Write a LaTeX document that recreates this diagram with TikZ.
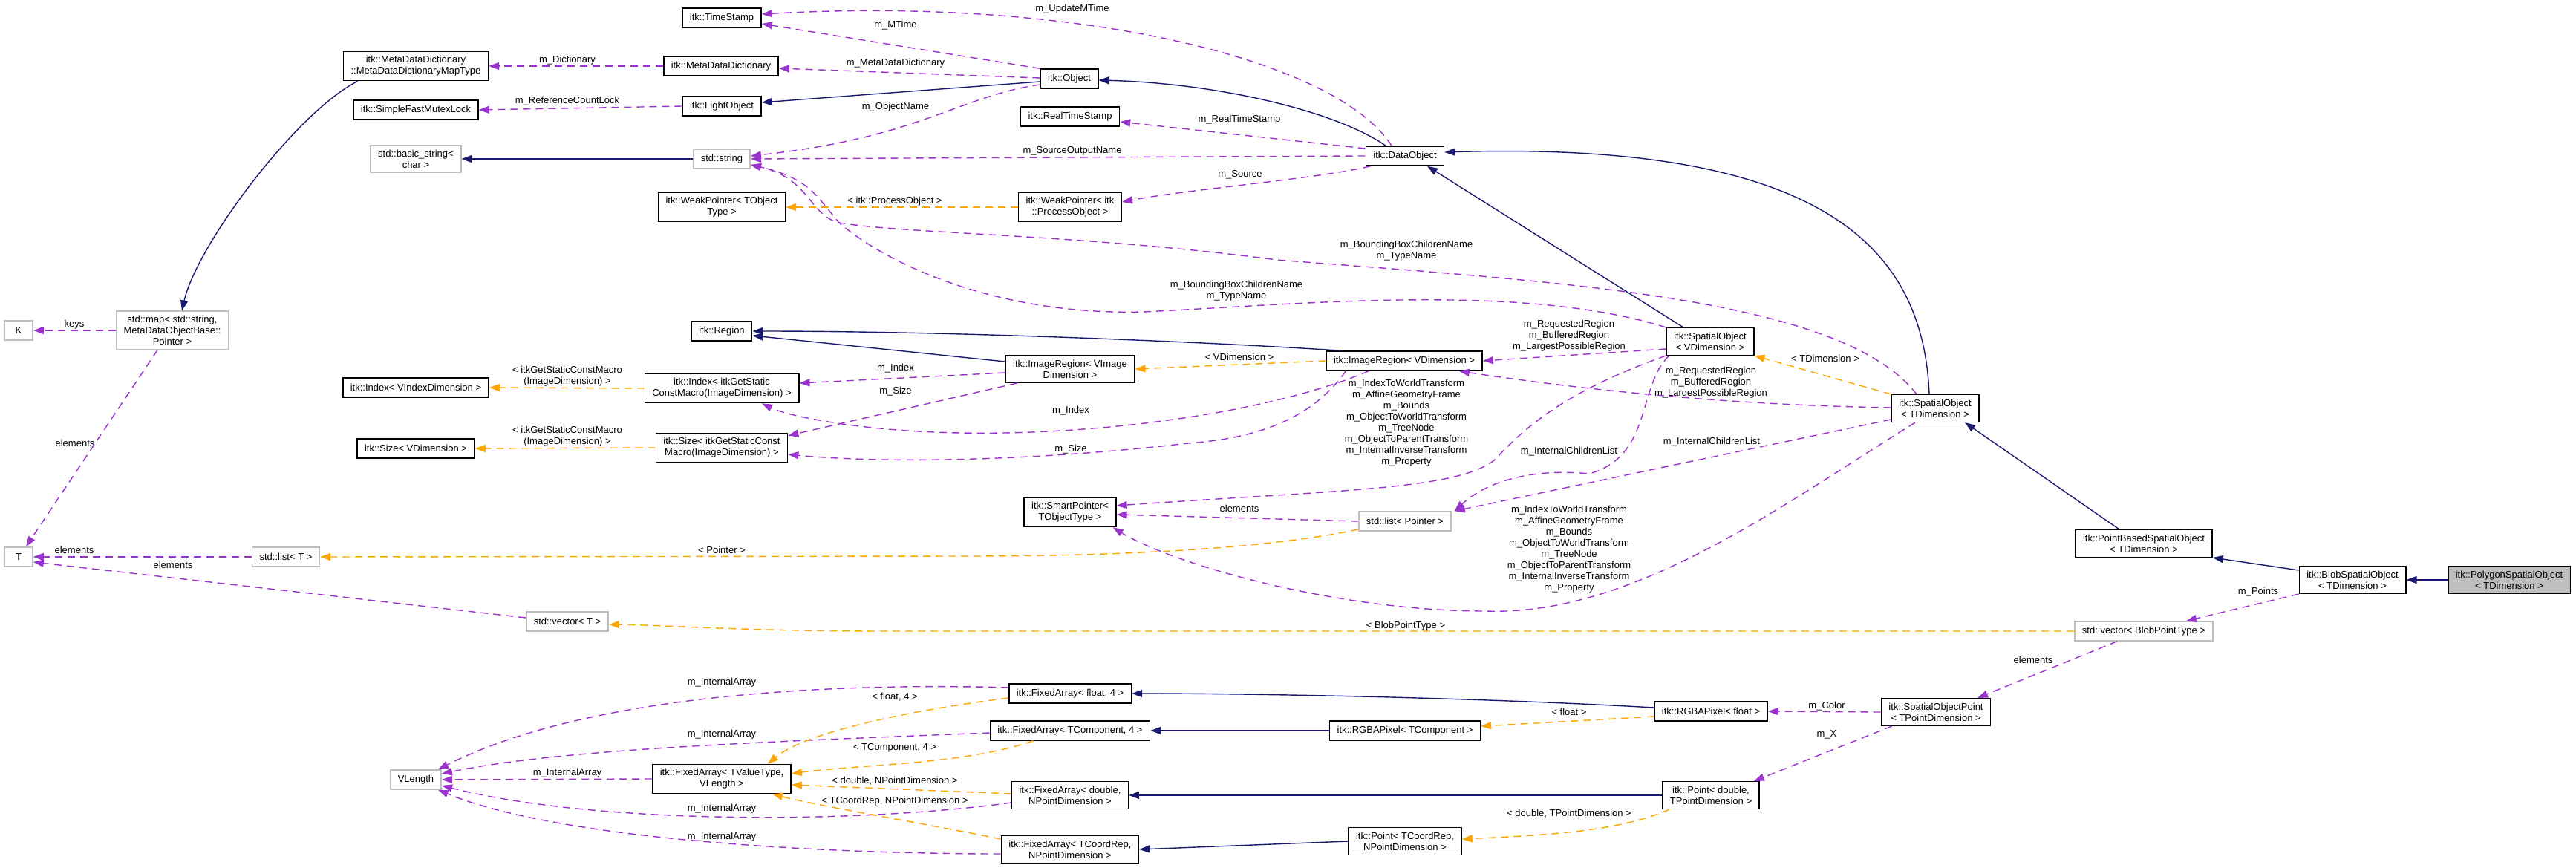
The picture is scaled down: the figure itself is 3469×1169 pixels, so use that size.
\documentclass[tikz,border=0pt]{standalone}
\usepackage{fontspec}
\setmainfont{Liberation Sans}
\usepackage{tikz}
\usetikzlibrary{arrows.meta}
\definecolor{inhblue}{HTML}{191970}
\definecolor{usepurple}{HTML}{9A32CD}
\definecolor{tplorange}{HTML}{FFA500}
\definecolor{extgray}{HTML}{BFBFBF}
\newcommand{\bbnames}{m\_BoundingBoxChildrenName\\m\_TypeName}
\newcommand{\regnames}{m\_RequestedRegion\\m\_BufferedRegion\\m\_LargestPossibleRegion}
\newcommand{\trnames}{m\_IndexToWorldTransform\\m\_AffineGeometryFrame\\m\_Bounds\\m\_ObjectToWorldTransform\\m\_TreeNode\\m\_ObjectToParentTransform\\m\_InternalInverseTransform\\m\_Property}

\begin{document}
\begin{tikzpicture}[x=1pt, y=-1pt, font=\fontsize{13}{15}\selectfont, >={Triangle[length=14pt,width=10pt]},
		box/.style={draw=black, line width=1.5pt, fill=white, align=center, inner xsep=10pt, inner ysep=6pt, minimum height=26pt},
		gbox/.style={box, draw=extgray},
		lab/.style={inner sep=0pt, align=center},
		inh/.style={->, color=inhblue, line width=1.4pt},
		use/.style={->, color=usepurple, line width=1.4pt, dash pattern=on 10pt off 7pt},
		tpl/.style={->, color=tplorange, line width=1.4pt, dash pattern=on 10pt off 7pt}]
			\useasboundingbox (0,0) rectangle (3469,1169);
			% classes
			\node[box] (mapT) at (560,89) {itk::MetaDataDictionary\\::MetaDataDictionaryMapType};
			\node[box] (mutex) at (560,148) {itk::SimpleFastMutexLock};
			\node[gbox] (bstr) at (560,214) {std::basic\_string<\\char >};
			\node[gbox] (stdmap) at (232,445) {std::map< std::string,\\MetaDataObjectBase::\\Pointer >};
			\node[gbox, minimum width=38pt] (K) at (25,445) {K};
			\node[gbox, minimum width=38pt] (T) at (25,750) {T};
			\node[box] (idxV) at (560,522) {itk::Index< VIndexDimension >};
			\node[box] (sizeV) at (560,604) {itk::Size< VDimension >};
			\node[gbox] (listT) at (385,750) {std::list< T >};
			\node[gbox] (vecT) at (764,837) {std::vector< T >};
			\node[gbox] (vlen) at (560,1050) {VLength};
			\node[box] (tstamp) at (972,24) {itk::TimeStamp};
			\node[box] (mdd) at (971,89) {itk::MetaDataDictionary};
			\node[box] (light) at (972,143) {itk::LightObject};
			\node[gbox] (str) at (972,214) {std::string};
			\node[box] (wpT) at (972,279) {itk::WeakPointer< TObject\\Type >};
			\node[box] (region) at (972,446) {itk::Region};
			\node[box] (idxS) at (972,523) {itk::Index< itkGetStatic\\ConstMacro(ImageDimension) >};
			\node[box] (sizeS) at (972,603) {itk::Size< itkGetStaticConst\\Macro(ImageDimension) >};
			\node[box] (faVL) at (972,1049) {itk::FixedArray< TValueType,\\VLength >};
			\node[box] (obj) at (1440,106) {itk::Object};
			\node[box] (rts) at (1441,157) {itk::RealTimeStamp};
			\node[box] (wpP) at (1441,279) {itk::WeakPointer< itk\\::ProcessObject >};
			\node[box] (irVI) at (1441,497) {itk::ImageRegion< VImage\\Dimension >};
			\node[box] (smartp) at (1441,690) {itk::SmartPointer<\\TObjectType >};
			\node[box] (faF) at (1441,934) {itk::FixedArray< float, 4 >};
			\node[box] (faC) at (1441,984) {itk::FixedArray< TComponent, 4 >};
			\node[box] (faD) at (1441,1071) {itk::FixedArray< double,\\NPointDimension >};
			\node[box] (faR) at (1441,1144) {itk::FixedArray< TCoordRep,\\NPointDimension >};
			\node[box] (dobj) at (1892,210) {itk::DataObject};
			\node[box] (irV) at (1891,486) {itk::ImageRegion< VDimension >};
			\node[gbox] (listP) at (1892,702) {std::list< Pointer >};
			\node[box] (rgbaC) at (1892,984) {itk::RGBAPixel< TComponent >};
			\node[box] (ptR) at (1892,1133) {itk::Point< TCoordRep,\\NPointDimension >};
			\node[box] (soV) at (2303,460) {itk::SpatialObject\\< VDimension >};
			\node[box] (rgbaF) at (2304,958) {itk::RGBAPixel< float >};
			\node[box] (ptD) at (2304,1071) {itk::Point< double,\\TPointDimension >};
			\node[box] (soT) at (2606,550) {itk::SpatialObject\\< TDimension >};
			\node[box] (sop) at (2607,959) {itk::SpatialObjectPoint\\< TPointDimension >};
			\node[box] (pbso) at (2887,732) {itk::PointBasedSpatialObject\\< TDimension >};
			\node[gbox] (vecB) at (2887,850) {std::vector< BlobPointType >};
			\node[box] (blob) at (3168,781) {itk::BlobSpatialObject\\< TDimension >};
			\node[box, fill=extgray] (poly) at (3379,781) {itk::PolygonSpatialObject\\< TDimension >};
			% edge labels
			\node[lab] (l-dict) at (764,81) {m\_Dictionary};
			\node[lab] (l-lock) at (764,136) {m\_ReferenceCountLock};
			\node[lab] (l-umt) at (1444,12) {m\_UpdateMTime};
			\node[lab] (l-mt) at (1206,34) {m\_MTime};
			\node[lab] (l-mdd) at (1206,85) {m\_MetaDataDictionary};
			\node[lab] (l-oname) at (1206,144) {m\_ObjectName};
			\node[lab] (l-rts) at (1669,161) {m\_RealTimeStamp};
			\node[lab] (l-son) at (1444,203) {m\_SourceOutputName};
			\node[lab] (l-src) at (1670,235) {m\_Source};
			\node[lab] (l-po) at (1205,271) {< itk::ProcessObject >};
			\node[lab] (l-bb1) at (1894,338) {\bbnames};
			\node[lab] (l-bb2) at (1665,392) {\bbnames};
			\node[lab] (l-keys) at (100,437) {keys};
			\node[lab] (l-el1) at (101,597) {elements};
			\node[lab] (l-gsc1) at (764,507) {< itkGetStaticConstMacro\\(ImageDimension) >};
			\node[lab] (l-gsc2) at (764,588) {< itkGetStaticConstMacro\\(ImageDimension) >};
			\node[lab] (l-el2) at (100,741) {elements};
			\node[lab] (l-el3) at (233,761) {elements};
			\node[lab] (l-idx1) at (1206,496) {m\_Index};
			\node[lab] (l-size1) at (1206,527) {m\_Size};
			\node[lab] (l-idx2) at (1442,553) {m\_Index};
			\node[lab] (l-size2) at (1442,605) {m\_Size};
			\node[lab] (l-vdim) at (1669,481) {< VDimension >};
			\node[lab] (l-reg1) at (2113,452) {\regnames};
			\node[lab] (l-reg2) at (2304,515) {\regnames};
			\node[lab] (l-tdim) at (2458,483) {< TDimension >};
			\node[lab] (l-tr1) at (1894,570) {\trnames};
			\node[lab] (l-tr2) at (2113,740) {\trnames};
			\node[lab] (l-icl1) at (2113,608) {m\_InternalChildrenList};
			\node[lab] (l-icl2) at (2305,595) {m\_InternalChildrenList};
			\node[lab] (l-el4) at (1669,685) {elements};
			\node[lab] (l-ptr) at (972,741) {< Pointer >};
			\node[lab] (l-bpt) at (1893,843) {< BlobPointType >};
			\node[lab] (l-ia1) at (972,919) {m\_InternalArray};
			\node[lab] (l-ia2) at (972,989) {m\_InternalArray};
			\node[lab] (l-ia3) at (764,1041) {m\_InternalArray};
			\node[lab] (l-ia4) at (972,1089) {m\_InternalArray};
			\node[lab] (l-ia5) at (972,1127) {m\_InternalArray};
			\node[lab] (l-f4) at (1205,939) {< float, 4 >};
			\node[lab] (l-c4) at (1205,1007) {< TComponent, 4 >};
			\node[lab] (l-dnp) at (1205,1052) {< double, NPointDimension >};
			\node[lab] (l-cnp) at (1205,1079) {< TCoordRep, NPointDimension >};
			\node[lab] (l-flt) at (2113,959) {< float >};
			\node[lab] (l-col) at (2460,951) {m\_Color};
			\node[lab] (l-x) at (2460,989) {m\_X};
			\node[lab] (l-dtp) at (2113,1096) {< double, TPointDimension >};
			\node[lab] (l-pts) at (3041,797) {m\_Points};
			\node[lab] (l-el5) at (2738,889) {elements};
			% inheritance
			\draw[inh] ([xshift=20pt]mapT.south west) .. controls (400,150) and (265,330) .. ([xshift=13pt]stdmap.north);
			\draw[inh] (str.west) -- (bstr.east);
			\draw[inh] ([yshift=-4pt]obj.west) -- ([yshift=5pt]light.east);
			\draw[inh] ([xshift=-26pt]dobj.north) .. controls (1800,150) and (1640,112) .. ([yshift=-2pt]obj.east);
			\draw[inh] ([xshift=-36pt]soV.north) -- ([xshift=30pt]dobj.south);
			\draw[inh] ([xshift=-8pt]soT.north) .. controls (2590,330) and (2450,190) .. ([yshift=5pt]dobj.east);
			\draw[inh] ([yshift=10pt]irVI.west) -- ([yshift=-6pt]region.east);
			\draw[inh] ([xshift=21pt]irV.north west) .. controls (1650,462) and (1300,446) .. (region.east);
			\draw[inh] ([xshift=-33pt]pbso.north) -- ([xshift=40pt]soT.south);
			\draw[inh] ([yshift=13pt]blob.west) -- (pbso.south east);
			\draw[inh] (poly.west) -- (blob.east);
			\draw[inh] ([yshift=5pt]rgbaF.west) .. controls (2000,940) and (1700,934) .. (faF.east);
			\draw[inh] (rgbaC.west) -- (faC.east);
			\draw[inh] (ptD.west) -- (faD.east);
			\draw[inh] (ptR.west) -- (faR.east);
			% members
			\draw[use] (mdd.west) -- (mapT.east);
			\draw[use] (light.west) -- (mutex.east);
			\draw[use] (obj.north west) -- ([yshift=-8pt]tstamp.east);
			\draw[use] ([xshift=-18pt]dobj.north) .. controls (1800,80) and (1450,-5) .. ([yshift=5pt]tstamp.east);
			\draw[use] ([yshift=1pt]obj.west) -- ([yshift=-3pt]mdd.east);
			\draw[use] ([yshift=-8pt]obj.west) .. controls (1290,130) and (1240,185) .. ([yshift=4pt]str.east);
			\draw[use] (dobj.west) -- (str.east);
			\draw[use] ([yshift=10pt]dobj.west) -- ([yshift=-7pt]rts.east);
			\draw[use] ([xshift=7pt]dobj.south west) .. controls (1780,240) and (1600,255) .. ([yshift=7pt]wpP.east);
			\draw[use] (soV.north west) .. controls (2050,380) and (1750,410) .. (1540,420) .. controls (1350,425) and (1200,360) .. (1130,300) .. controls (1100,265) and (1090,240) .. ([yshift=-8pt]str.east);
			\draw[use] ([xshift=-25pt]soT.north) .. controls (2480,400) and (2100,380) .. (1720,350) .. controls (1450,315) and (1220,315) .. (1130,300) .. controls (1090,290) and (1090,240) .. ([yshift=-8pt]str.east);
			\draw[use] ([yshift=-10pt]soV.west) -- (irV.east);
			\draw[use] ([yshift=1pt]soT.west) .. controls (2300,545) and (2100,520) .. ([xshift=-32pt]irV.south east);
			\draw[use] (soV.south west) .. controls (2100,530) and (2050,580) .. (2012,620) .. controls (1960,660) and (1800,660) .. ([yshift=9pt]smartp.east);
			\draw[use] (listP.west) -- ([yshift=-3pt]smartp.east);
			\draw[use] ([xshift=-27pt]soT.south) .. controls (2400,680) and (2200,830) .. (2000,823) .. controls (1800,823) and (1580,760) .. ([xshift=-5pt]smartp.south east);
			\draw[use] ([xshift=4pt]soV.south west) .. controls (2205,520) and (2225,615) .. (2140,638) .. controls (2060,630) and (2000,650) .. ([xshift=4pt]listP.north east);
			\draw[use] ([yshift=-15pt]soT.west) -- ([xshift=4pt]listP.north east);
			\draw[use] ([yshift=-5pt]irVI.west) -- ([yshift=7pt]idxS.east);
			\draw[use] ([xshift=16pt]irVI.south west) -- ([yshift=-4pt]sizeS.north east);
			\draw[use] ([xshift=58pt]irV.south west) .. controls (1700,560) and (1450,590) .. (1260,582) .. controls (1150,578) and (1060,560) .. ([xshift=54pt]idxS.south);
			\draw[use] ([xshift=27pt]irV.south west) .. controls (1770,560) and (1700,590) .. (1600,597) .. controls (1400,620) and (1200,625) .. ([yshift=-9pt]sizeS.east);
			\draw[use] (stdmap.west) -- (K.east);
			\draw[use] ([xshift=-20pt]stdmap.south) -- ([xshift=10pt]T.north);
			\draw[use] (listT.west) -- (T.east);
			\draw[use] ([yshift=5pt]vecT.west) -- ([yshift=-7pt]T.east);
			\draw[use] (sop.west) -- (rgbaF.east);
			\draw[use] ([xshift=15pt]sop.south west) -- ([xshift=-8pt]ptD.north east);
			\draw[use] ([xshift=-36pt]vecB.south) -- ([xshift=56pt]sop.north);
			\draw[use] (blob.south west) -- ([xshift=57pt]vecB.north);
			\draw[use] ([yshift=8pt]faF.west) .. controls (1150,920) and (800,930) .. ([xshift=-5pt]vlen.north east);
			\draw[use] ([yshift=-3pt]faC.west) .. controls (1000,1000) and (750,1010) .. ([yshift=8pt]vlen.east);
			\draw[use] (faVL.west) -- (vlen.east);
			\draw[use] ([yshift=-10pt]faD.west) .. controls (1150,1110) and (800,1110) .. ([yshift=-8pt]vlen.east);
			\draw[use] ([yshift=-6pt]faR.west) .. controls (1100,1150) and (750,1130) .. ([xshift=-5pt]vlen.south east);
			% template instances
			\draw[tpl] (irV.west) -- (irVI.east);
			\draw[tpl] (idxS.west) -- (idxV.east);
			\draw[tpl] (sizeS.west) -- (sizeV.east);
			\draw[tpl] (wpP.west) -- (wpT.east);
			\draw[tpl] (soT.north west) -- (soV.south east);
			\draw[tpl] ([yshift=-11pt]listP.west) .. controls (1700,740) and (1500,749) .. (1300,749) -- (listT.east);
			\draw[tpl] (vecB.west) -- (1200,850) .. controls (1000,850) and (900,842) .. ([yshift=-4pt]vecT.east);
			\draw[tpl] ([yshift=-7pt]rgbaF.west) -- ([yshift=6pt]rgbaC.east);
			\draw[tpl] ([xshift=10pt]ptD.south west) .. controls (2180,1120) and (2080,1125) .. ([yshift=3pt]ptR.east);
			\draw[tpl] ([yshift=-6pt]faF.west) .. controls (1200,960) and (1080,990) .. ([xshift=62pt]faVL.north);
			\draw[tpl] ([xshift=-50pt]faC.south) .. controls (1300,1030) and (1150,1030) .. ([yshift=7pt]faVL.east);
			\draw[tpl] ([yshift=2pt]faD.west) -- ([yshift=-8pt]faVL.east);
			\draw[tpl] ([yshift=14pt]faR.west) .. controls (1250,1110) and (1100,1085) .. ([xshift=68pt]faVL.south);
		\end{tikzpicture}
\end{document}
